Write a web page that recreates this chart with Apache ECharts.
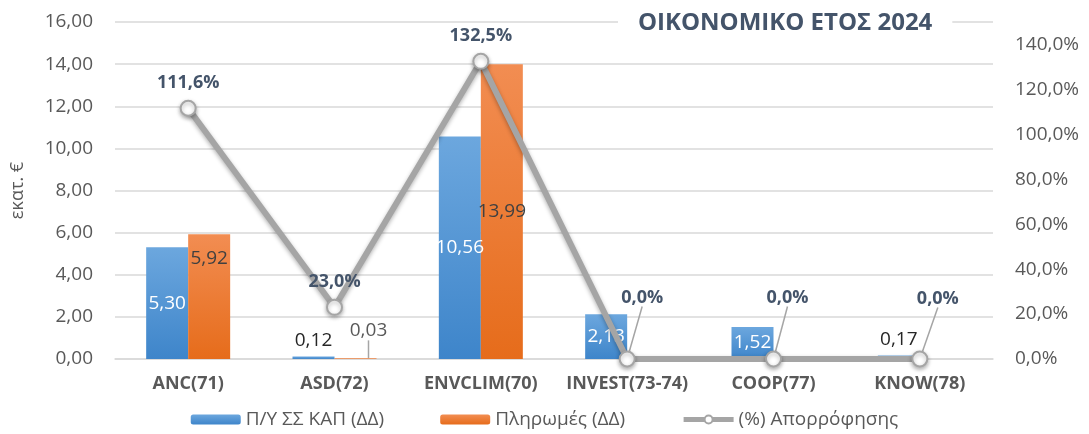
<!DOCTYPE html>
<html>
<head>
<meta charset="utf-8">
<script src="https://cdn.jsdelivr.net/npm/echarts@6/dist/echarts.min.js"></script>
<style>
  html, body { margin: 0; padding: 0; background: #fff; }
  #chart { width: 1089px; height: 434px; }
</style>
</head>
<body>
<div id="chart"></div>
<script>
var categories = ['ANC(71)', 'ASD(72)', 'ENVCLIM(70)', 'INVEST(73-74)', 'COOP(77)', 'KNOW(78)'];
var budget = [5.30, 0.12, 10.56, 2.13, 1.52, 0.17];
var payments = [5.92, 0.03, 13.99, null, null, null];
var absorption = [111.6, 23.0, 132.5, 0.0, 0.0, 0.0];
var leftTicks = { min: 0, max: 16, interval: 2 };
var rightTicks = { min: 0, max: 150, interval: 20 };

var font = '"Open Sans", "Noto Sans", sans-serif';
var grey = '#595959';
var titleBlue = '#44546A';

function comma(v, d) {
  return v.toFixed(d).replace('.', ',');
}

// bar data items, small bars get their label above in dark text
var budgetData = budget.map(function (v, i) {
  var item = { value: v };
  if (v < 1) {
    item.label = { position: 'top', color: '#262626', distance: 6 };
  }
  return item;
});
var paymentData = payments.map(function (v, i) {
  var item = { value: v };
  if (v !== null && v < 1) {
    item.label = { position: 'top', color: grey, distance: 4 };
    item.labelLine = { show: true };
  }
  return item;
});
var absorptionData = absorption.map(function (v) {
  var item = { value: v };
  if (v === 0) item.labelLine = { show: true };
  return item;
});

var myChart = echarts.init(document.getElementById('chart'));
myChart.setOption({
  animation: false,
  title: {
    text: 'ΟΙΚΟΝΟΜΙΚΟ ΕΤΟΣ 2024',
    left: 618,
    top: 6,
    padding: [5, 20],
    backgroundColor: '#fff',
    textStyle: { color: titleBlue, fontSize: 24, fontWeight: 'bold', fontFamily: font }
  },
  legend: {
    bottom: 0,
    left: 'center',
    itemWidth: 50,
    itemHeight: 10,
    itemGap: 56,
    textStyle: { color: grey, fontSize: 19, fontFamily: font },
    data: [
      'Π/Υ ΣΣ ΚΑΠ (ΔΔ)',
      'Πληρωμές (ΔΔ)',
      { name: '(%) Απορρόφησης', lineStyle: { width: 5 } }
    ]
  },
  grid: { left: 115, right: 96, top: 22, bottom: 75 },
  xAxis: {
    type: 'category',
    data: categories,
    axisTick: { show: false },
    axisLine: { lineStyle: { color: '#D9D9D9', width: 1.5 } },
    axisLabel: {
      interval: 0, color: grey, fontSize: 18, fontWeight: 'bold', fontFamily: font, margin: 16
    }
  },
  yAxis: [
    {
      type: 'value',
      min: leftTicks.min,
      max: leftTicks.max,
      interval: leftTicks.interval,
      name: 'εκατ. €',
      nameLocation: 'middle',
      nameGap: 88,
      nameTextStyle: { color: grey, fontSize: 18, fontFamily: font },
      axisLine: { show: false },
      axisTick: { show: false },
      splitLine: { lineStyle: { color: '#D9D9D9', width: 1.5 } },
      axisLabel: {
        color: grey, fontSize: 19, fontFamily: font, margin: 22,
        formatter: function (v) { return comma(v, 2); }
      }
    },
    {
      type: 'value',
      min: rightTicks.min,
      max: rightTicks.max,
      interval: rightTicks.interval,
      axisLine: { show: false },
      axisTick: { show: false },
      splitLine: { show: false },
      axisLabel: {
        color: grey, fontSize: 19, fontFamily: font, margin: 22, showMaxLabel: false,
        formatter: function (v) { return comma(v, 1) + '%'; }
      }
    }
  ],
  series: [
    {
      name: 'Π/Υ ΣΣ ΚΑΠ (ΔΔ)',
      type: 'bar',
      barWidth: 42,
      barGap: '0%',
      data: budgetData,
      itemStyle: {
        color: new echarts.graphic.LinearGradient(0, 0, 0, 1, [
          { offset: 0, color: '#6CA7DE' },
          { offset: 1, color: '#3E85CA' }
        ])
      },
      label: {
        show: true,
        position: 'inside',
        color: '#fff',
        fontSize: 19,
        fontFamily: font,
        formatter: function (p) { return comma(p.value, 2); }
      }
    },
    {
      name: 'Πληρωμές (ΔΔ)',
      type: 'bar',
      barWidth: 42,
      barGap: '0%',
      data: paymentData,
      itemStyle: {
        color: new echarts.graphic.LinearGradient(0, 0, 0, 1, [
          { offset: 0, color: '#F28D52' },
          { offset: 1, color: '#E66C1B' }
        ])
      },
      label: {
        show: true,
        position: 'inside',
        color: '#404040',
        fontSize: 19,
        fontFamily: font,
        formatter: function (p) { return p.value === null ? '' : comma(p.value, 2); }
      },
      labelLine: { show: false, lineStyle: { color: '#A5A5A5', width: 1.5 } },
      labelLayout: function (p) {
        if (p.dataIndex === 0) return { dy: -38 };
        if (p.dataIndex === 1) return { dx: 13, dy: -14 };
        return {};
      }
    },
    {
      name: '(%) Απορρόφησης',
      type: 'line',
      yAxisIndex: 1,
      data: absorptionData,
      symbol: 'circle',
      symbolSize: 15,
      lineStyle: {
        color: '#A5A5A5', width: 6,
        shadowColor: 'rgba(0,0,0,0.3)', shadowBlur: 4, shadowOffsetY: 2
      },
      itemStyle: {
        color: '#fff', borderColor: '#A5A5A5', borderWidth: 2,
        shadowColor: 'rgba(0,0,0,0.3)', shadowBlur: 4, shadowOffsetY: 2
      },
      label: {
        show: true,
        position: 'top',
        distance: 8,
        color: titleBlue,
        fontSize: 18,
        fontWeight: 'bold',
        fontFamily: font,
        formatter: function (p) { return comma(p.value, 1) + '%'; }
      },
      labelLine: { show: false, lineStyle: { color: '#A5A5A5', width: 1.5 } },
      labelLayout: function (p) {
        if (p.dataIndex === 3) return { dx: 15, dy: -36 };
        if (p.dataIndex === 4) return { dx: 14, dy: -36 };
        if (p.dataIndex === 5) return { dx: 18, dy: -35 };
        return {};
      },
      z: 5
    }
  ]
});
</script>
</body>
</html>
